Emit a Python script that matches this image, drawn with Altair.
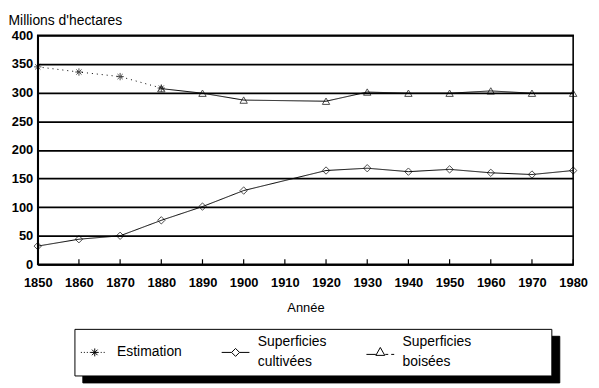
import altair as alt
import pandas as pd

# ---- data ----
series_names = ["Estimation", "Superficies cultivées", "Superficies boisées"]

years_est = [1850, 1860, 1870, 1880]
vals_est = [345, 336, 328, 308]

years_cult = [1850, 1860, 1870, 1880, 1890, 1900, 1920, 1930, 1940, 1950, 1960, 1970, 1980]
vals_cult = [32, 44, 50, 77, 101, 129, 164, 168, 162, 166, 160, 157, 164]

years_bois = [1880, 1890, 1900, 1920, 1930, 1940, 1950, 1960, 1970, 1980]
vals_bois = [307, 299, 287, 285, 301, 299, 299, 303, 299, 299]

tick_years = list(range(1850, 1981, 10))
y_ticks = list(range(0, 401, 50))

rows = []
for yr, v in zip(years_est, vals_est):
    rows.append({"year": yr, "value": v, "series": series_names[0]})
for yr, v in zip(years_cult, vals_cult):
    rows.append({"year": yr, "value": v, "series": series_names[1]})
for yr, v in zip(years_bois, vals_bois):
    rows.append({"year": yr, "value": v, "series": series_names[2]})
df = pd.DataFrame(rows)
ticks_df = pd.DataFrame({"year": tick_years})

FONT = "Liberation Sans"
W, H = 540, 231

# marker shape for the estimate points
ASTERISK = "M-1,0L1,0M0,-1L0,1M-0.7,-0.7L0.7,0.7M-0.7,0.7L0.7,-0.7"

# ---- legend symbols (line + marker), built in pixels then scaled to symbol units ----
UNIT = 7.0  # px per symbol unit for symbolSize 196


def P(x, y):
    return f"{x / UNIT:.3f},{y / UNIT:.3f}"


def seg(x1, y1, x2, y2):
    return f"M{P(x1, y1)}L{P(x2, y2)}"


# Estimation: dotted line, asterisk, dotted tail (centred on the label line)
est_parts = [seg(x, 0, x + 1, 0) for x in (-7, -4, -1, 2)]
est_parts += [seg(3, 0, 11, 0), seg(7, -4, 7, 4), seg(4.2, -2.8, 9.8, 2.8), seg(4.2, 2.8, 9.8, -2.8)]
est_parts += [seg(x, 0, x + 1, 0) for x in (13, 16)]
LEG_EST = "".join(est_parts)

# two-line entries: symbol drawn between the two label lines (10 px lower)
DY = 10
LEG_CULT = (seg(-7, DY, 3, DY) + seg(11, DY, 21, DY)
            + f"M{P(7, DY - 4)}L{P(11, DY)}L{P(7, DY + 4)}L{P(3, DY)}Z")
LEG_BOIS = (seg(-7, DY + 2, 2.5, DY + 2) + seg(12, DY + 2, 15, DY + 2) + seg(18, DY + 2, 21, DY + 2)
            + f"M{P(7, DY - 5)}L{P(11.5, DY + 3)}L{P(2.5, DY + 3)}Z")
LEG_PAD = "M0,0"

legend_domain = series_names + ["_"]
legend_range = [LEG_EST, LEG_CULT, LEG_BOIS, LEG_PAD]
LABEL_EXPR = (
    "datum.label == 'Estimation' ? 'Estimation' : "
    "(datum.label == '_' ? '' : split(datum.label, ' '))"
)

x_enc = alt.X(
    "year:Q",
    scale=alt.Scale(domain=[1850, 1980], nice=False, zero=False),
    axis=alt.Axis(
        title="Année",
        values=tick_years,
        format="d",
        grid=False,
        ticks=False,
        domain=True,
        domainColor="black",
        domainWidth=1.5,
        labelOverlap=False,
        labelFlush=False,
        labelPadding=12,
        labelFont=FONT,
        labelFontSize=13,
        labelFontWeight="bold",
        labelColor="black",
        titleFont=FONT,
        titleFontSize=13,
        titleFontWeight="normal",
        titleColor="black",
        titlePadding=12,
    ),
)
y_enc = alt.Y(
    "value:Q",
    scale=alt.Scale(domain=[0, 400], nice=False),
    axis=alt.Axis(
        title="Millions d'hectares",
        values=y_ticks,
        tickCount=9,
        grid=True,
        gridColor="black",
        gridWidth=1.6,
        gridOpacity=1,
        ticks=False,
        domain=True,
        domainColor="black",
        domainWidth=1.6,
        labelOverlap=False,
        labelFlush=False,
        labelPadding=5,
        labelFont=FONT,
        labelFontSize=13,
        labelFontWeight="bold",
        labelColor="black",
        titleFont=FONT,
        titleFontSize=14,
        titleFontWeight="normal",
        titleColor="black",
        titleAngle=0,
        titleAlign="left",
        titleBaseline="alphabetic",
        titleX=-30,
        titleY=-11,
    ),
)

base = alt.Chart(df).encode(x=x_enc, y=y_enc)

lines = base.mark_line(color="black", strokeWidth=1).encode(
    detail="series:N",
    strokeDash=alt.StrokeDash(
        "series:N",
        scale=alt.Scale(domain=series_names, range=[[1, 4], [1, 0], [1, 0]]),
        legend=None,
    ),
)

points = base.mark_point(color="black", filled=False, strokeWidth=1, size=55).encode(
    shape=alt.Shape(
        "series:N",
        scale=alt.Scale(domain=series_names, range=[ASTERISK, "diamond", "triangle-up"]),
        legend=None,
    ),
)


def legend_layer(lx, ly, fill, z, label_opacity):
    return base.transform_filter("datum.year < 0").mark_point(
        color="black", filled=False, strokeWidth=1
    ).encode(
        shape=alt.Shape(
            "series:N",
            scale=alt.Scale(domain=legend_domain, range=legend_range),
            legend=alt.Legend(
                title=None,
                orient="none",
                legendX=lx,
                legendY=ly,
                direction="horizontal",
                columns=4,
                gridAlign="each",
                columnPadding=37,
                padding=6,
                strokeColor="black",
                fillColor=fill,
                zindex=z,
                symbolSize=196,
                symbolStrokeWidth=1,
                symbolStrokeColor="black",
                symbolFillColor="transparent",
                symbolOpacity=1,
                labelFont=FONT,
                labelFontSize=14,
                labelColor="black",
                labelOpacity=label_opacity,
                labelOffset=22,
                labelLimit=300,
                labelBaseline="middle",
                labelExpr=LABEL_EXPR,
            ),
        ),
    )


legend_shadow = legend_layer(45, 303, "black", 0, 0)
legend_main = legend_layer(37, 296, "white", 1, 1)

inner_ticks = alt.Chart(ticks_df).mark_rule(color="black", strokeWidth=1.2).encode(
    x=alt.X("year:Q"),
    y=alt.datum(0),
    y2=alt.datum(9),
)

chart = (
    alt.layer(lines, inner_ticks, points, legend_shadow, legend_main)
    .resolve_scale(shape="independent")
    .properties(
        width=W,
        height=H,
        autosize=alt.AutoSizeParams(type="none"),
        padding={"left": 30, "top": 26, "right": 18, "bottom": 120},
        background="white",
    )
    .configure(style={"guide-label": {"lineHeight": 20}})
    .configure_view(stroke="black", strokeWidth=1.6)
)

chart.save("out.html", embed_options={"renderer": "svg", "actions": False})
